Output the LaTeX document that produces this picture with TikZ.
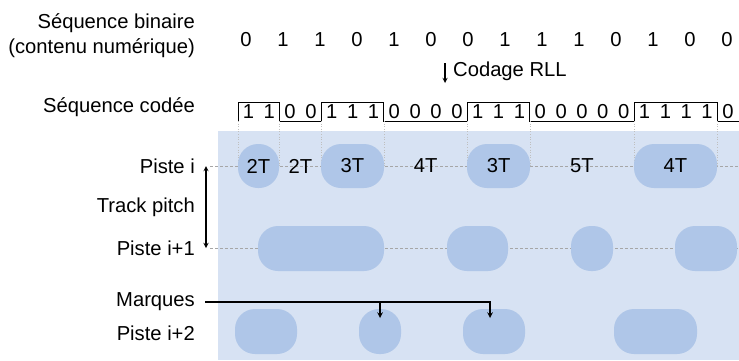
\documentclass[tikz,border=0pt]{standalone}
\usepackage{fontspec}
\setmainfont{Liberation Sans}
\definecolor{fondbleu}{RGB}{215,226,243}
\definecolor{marque}{RGB}{175,198,232}
\tikzset{>=stealth}

\begin{document}
\begin{tikzpicture}[x=1pt,y=-1pt,
    every node/.style={font=\fontsize{20.2}{25}\selectfont, inner sep=0pt},
    lbl/.style={anchor=east, align=right},
    blob/.style={fill=marque, rounded corners=20pt},
    piste/.style={gray!70, dash pattern=on 3pt off 2pt, line width=0.8pt},
    trait/.style={gray!50, dotted, line width=0.6pt}]
    \useasboundingbox (0,0) rectangle (739,360);
    \fill[fondbleu] (218,131) rectangle (739,360);
    % labels
    \node[lbl] (binaire) at (195,36) {Séquence binaire\\(contenu numérique)};
    \node[lbl] (codee) at (195,107) {Séquence codée};
    \node[lbl] (pistei) at (195,166) {Piste i};
    \node[lbl] (pitch) at (195,207) {Track pitch};
    \node[lbl] (pisteii) at (195,248) {Piste i+1};
    \node[lbl] (marques) at (195,302) {Marques};
    \node[lbl] (pisteiii) at (195,333) {Piste i+2};
    % sequence binaire
    \foreach \b [count=\i from 0] in {0,1,1,0,1,0,0,1,1,1,0,1,0,0}
        \node (b\i) at (246+37*\i,40) {\b};
    \node[anchor=west] (rll) at (453,71) {Codage RLL};
    \coordinate (rllhaut) at (445,63);
    \coordinate (rllbas) at (445,83);
    \draw[->, line width=1.3pt] (rllhaut) -- (rllbas);
    % sequence codee
    \foreach \b [count=\i from 0] in {1,1,0,0,1,1,1,0,0,0,0,1,1,1,0,0,0,0,0,1,1,1,1,0} {
        \node (c\i) at (248.4+20.85*\i,112) {\b};
        \draw[line width=1pt, line cap=rect] (238+20.85*\i,121-19*\b) -- ++(20.85,0);
    }
    \foreach \n in {0,2,4,7,11,14,19,23} {
        \draw[line width=1pt, line cap=rect] (238+20.85*\n,102) -- (238+20.85*\n,121);
        \draw[trait] (238+20.85*\n,121) -- (238+20.85*\n,166);
    }
    % pistes
    \draw[piste] ([xshift=15pt]pistei.east) -- (739,166);
    \draw[piste] ([xshift=15pt]pisteii.east) -- (739,248);
    \draw[<->, line width=1.3pt] ([xshift=11pt]pistei.east) -- ([xshift=11pt]pisteii.east);
    \foreach \a/\z in {238/279,321/384,467/530,634/717}
        \fill[blob] (\a,144) rectangle (\z,188);
    \foreach \a/\z in {258/384,447/508,571/613,675/737}
        \fill[blob] (\a,226) rectangle (\z,271);
    \foreach \a/\z in {235/297,359/401,463/525,614/697}
        \fill[blob] (\a,309) rectangle (\z,354);
    \foreach \x/\t [count=\i] in {258.5/2T,300.5/2T,352.5/3T,425.7/4T,498.7/3T,582/5T,675.5/4T}
        \node (d\i) at (\x,166) {\t};
    % marques
    \coordinate (m1) at (380,318);
    \coordinate (m2) at (490,318);
    \draw[->, line width=1.5pt] ([xshift=10pt]marques.east) -| (m2);
    \draw[->, line width=1.5pt] (m1 |- marques.east) -- (m1);
\end{tikzpicture}
\end{document}
